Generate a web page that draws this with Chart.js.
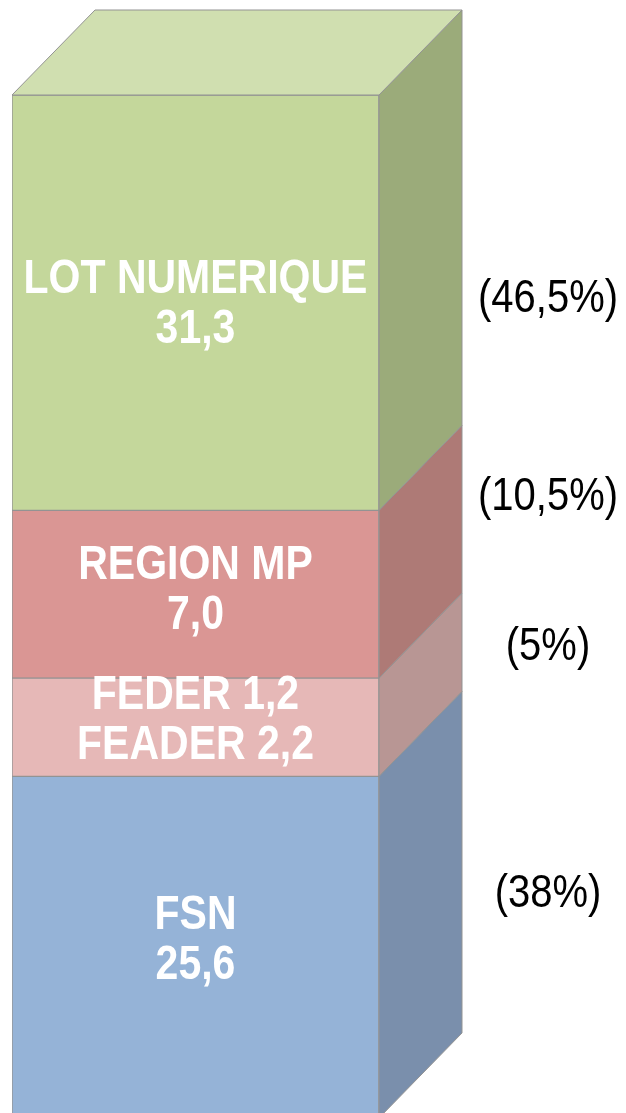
<!DOCTYPE html>
<html>
<head>
<meta charset="utf-8">
<script src="https://cdn.jsdelivr.net/npm/chart.js@4.4.0/dist/chart.umd.min.js"></script>
<style>
    html, body { margin: 0; padding: 0; background: #fff; overflow: hidden; }
    #wrap { position: relative; width: 626px; height: 1125px; }
</style>
</head>
<body>
<div id="wrap"><canvas id="stackChart"></canvas></div>
<script>
// segments, bottom to top
const segments = ['FSN', 'FEDER / FEADER', 'REGION MP', 'LOT NUMERIQUE'];
// share of the column each block takes as drawn (%)
const blockShares = [33.4, 9.6, 16.4, 40.6];
// text written on each block
const blockLabels = [['FSN', '25,6'], ['FEDER 1,2', 'FEADER 2,2'], ['REGION MP', '7,0'], ['LOT NUMERIQUE', '31,3']];
const percentLabels = ['(38%)', '(5%)', '(10,5%)', '(46,5%)'];

const frontColors = ['#95b3d7', '#e6b8b7', '#da9694', '#c4d79b'];
const sideColors = ['#7a8fac', '#b89694', '#ae7a76', '#9bab7a'];
const topColor = '#d0dfb0';
const edgeColor = '#939393';

// texte un peu etire verticalement comme dans l'original
function tallText(ctx, txt, x, y, sy) {
    ctx.save();
    ctx.translate(x, y);
    ctx.scale(1, sy);
    ctx.fillText(txt, 0, 0);
    ctx.restore();
}

// faces de cote + dessus pour l'effet 3D, puis les textes
const cubePlugin = {
    id: 'cube3d',
    afterDatasetsDraw(chart, args, opts) {
        const ctx = chart.ctx;
        const dx = opts.depthX, dy = opts.depthY;
        let last = null;
        ctx.save();
        ctx.lineWidth = 1;
        ctx.strokeStyle = edgeColor;
        chart.data.datasets.forEach((ds, i) => {
            const bar = chart.getDatasetMeta(i).data[0];
            const right = bar.x + bar.width / 2;
            const top = bar.y, bottom = bar.base;
            ctx.beginPath();
            ctx.moveTo(right, top);
            ctx.lineTo(right + dx, top - dy);
            ctx.lineTo(right + dx, bottom - dy);
            ctx.lineTo(right, bottom);
            ctx.closePath();
            ctx.fillStyle = sideColors[i];
            ctx.fill();
            ctx.stroke();
            last = bar;
        });
        // dessus
        const left = last.x - last.width / 2, right = last.x + last.width / 2;
        ctx.beginPath();
        ctx.moveTo(left, last.y);
        ctx.lineTo(left + dx, last.y - dy);
        ctx.lineTo(right + dx, last.y - dy);
        ctx.lineTo(right, last.y);
        ctx.closePath();
        ctx.fillStyle = topColor;
        ctx.fill();
        ctx.stroke();
        ctx.restore();
    },
    afterDraw(chart, args, opts) {
        const ctx = chart.ctx;
        ctx.save();
        ctx.textAlign = 'center';
        ctx.textBaseline = 'middle';
        chart.data.datasets.forEach((ds, i) => {
            const bar = chart.getDatasetMeta(i).data[0];
            const mid = (bar.y + bar.base) / 2;
            ctx.fillStyle = '#ffffff';
            ctx.font = 'bold 41px "Liberation Sans", Arial, sans-serif';
            const lines = blockLabels[i];
            lines.forEach((t, k) => {
                const y = mid + opts.textShift[i] + (k - (lines.length - 1) / 2) * 50;
                tallText(ctx, t, bar.x, y, opts.stretch);
            });
            ctx.fillStyle = '#000000';
            ctx.font = '40px "Liberation Sans", Arial, sans-serif';
            tallText(ctx, percentLabels[i], opts.pctX, mid + opts.pctShift[i], opts.stretch);
        });
        ctx.restore();
    }
};

const ctx = document.getElementById('stackChart').getContext('2d');
new Chart(ctx, {
    type: 'bar',
    data: {
        labels: [''],
        datasets: segments.map((name, i) => ({
            label: name,
            data: [blockShares[i]],
            backgroundColor: frontColors[i],
            borderColor: edgeColor,
            borderWidth: 1,
            borderSkipped: false,
            barPercentage: 1,
            categoryPercentage: 1
        }))
    },
    options: {
        responsive: true,
        maintainAspectRatio: false,
        animation: false,
        layout: {
            padding: { left: 12, right: 247, top: 95, bottom: 7 }
        },
        scales: {
            x: { stacked: true, display: false },
            y: { stacked: true, display: false, min: 0, max: 100 }
        },
        plugins: {
            legend: { display: false },
            tooltip: { enabled: false },
            cube3d: {
                depthX: 83, depthY: 85, pctX: 548, stretch: 1.15,
                textShift: [-6, -6, -3.5, 2],
                pctShift: [-53, -80, -97, -3]
            }
        }
    },
    plugins: [cubePlugin]
});
</script>
</body>
</html>
